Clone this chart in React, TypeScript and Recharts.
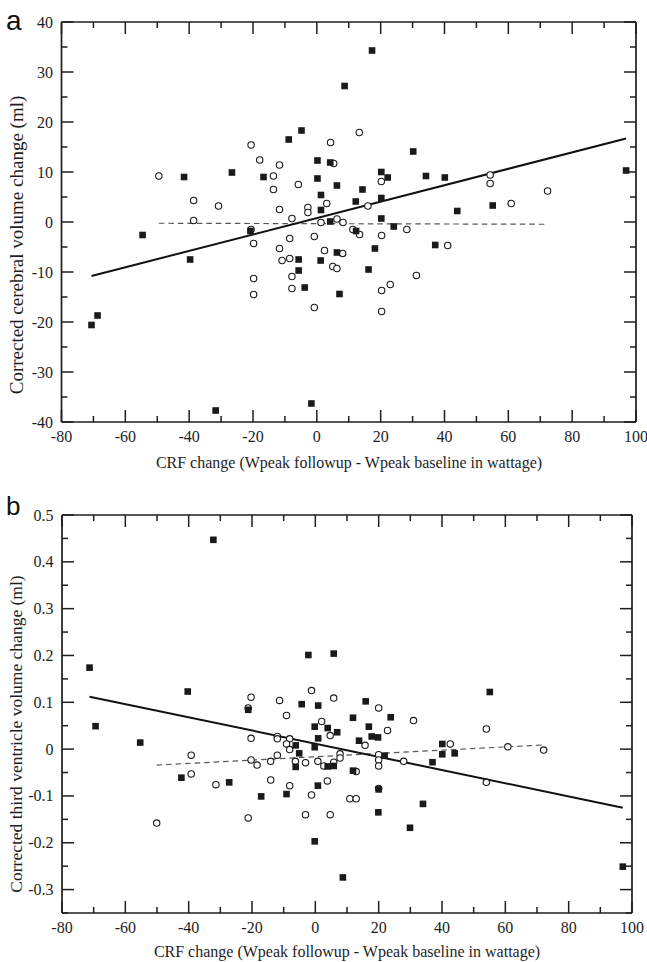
import React from 'react';
import { ScatterChart, Scatter, XAxis, YAxis, ReferenceLine } from 'recharts';

// ---------- Panel a data (CRF change vs corrected cerebral volume change) ----------
const aFilled: [number, number][] = [
  [8.7, 27.2], [-41.6, 9.0], [-26.6, 9.9], [-8.8, 16.5], [-4.8, 18.3], [-16.7, 9.0],
  [0.2, 12.3], [0.2, 8.7], [4.2, 11.9], [6.3, 7.3], [1.3, 5.4], [1.3, 2.4], [4.2, 0.1],
  [17.3, 34.3], [30.2, 14.1], [20.2, 10.0], [22.2, 8.9], [34.2, 9.2], [40.1, 8.9],
  [96.9, 10.3], [14.3, 6.5], [12.2, 4.1], [20.2, 4.8], [55.1, 3.3], [44.0, 2.2],
  [20.2, 0.7], [24.1, -0.9], [-54.6, -2.6], [-20.8, -1.8], [-39.7, -7.5], [-5.7, -7.5],
  [-5.7, -9.7], [-3.8, -13.1], [1.2, -7.7], [6.3, -6.1], [7.1, -14.4], [-70.6, -20.6],
  [-68.7, -18.7], [-31.7, -37.7], [-1.7, -36.3], [12.3, -1.8], [18.2, -5.3],
  [37.1, -4.6], [16.2, -9.5],
];
const aOpen: [number, number][] = [
  [-49.5, 9.2], [-20.6, 15.4], [4.3, 15.9], [-17.9, 12.4], [-11.7, 11.4], [-13.6, 9.2],
  [-13.6, 6.5], [-5.8, 7.5], [5.3, 11.7], [3.1, 3.7], [-38.6, 4.3], [-30.8, 3.2],
  [-11.7, 2.5], [-2.8, 2.9], [-2.8, 1.9], [-7.8, 0.7], [-38.6, 0.3], [1.3, -0.1],
  [6.3, 0.6], [8.2, -0.1], [13.3, 17.9], [20.2, 8.1], [54.3, 9.4], [54.3, 7.7],
  [72.3, 6.2], [16.0, 3.2], [60.9, 3.7], [-20.6, -1.5], [-19.8, -4.3], [-11.7, -5.3],
  [-8.5, -3.3], [-10.9, -7.7], [-8.5, -7.3], [-7.8, -10.9], [-7.8, -13.3], [-19.8, -11.3],
  [-19.8, -14.5], [-0.8, -2.9], [2.4, -5.7], [8.1, -6.3], [5.0, -8.9], [6.3, -9.3],
  [-0.8, -17.1], [11.3, -1.5], [13.4, -2.5], [28.2, -1.5], [20.3, -2.7], [41.0, -4.7],
  [31.2, -10.7], [23.0, -12.5], [20.3, -13.7], [20.3, -17.9],
];
const aSolidFit: [number, number][] = [[-70.6, -10.8], [96.9, 16.7]];
const aDashedFit: [number, number][] = [[-49.5, -0.25], [72.2, -0.45]];

// ---------- Panel b data (CRF change vs corrected third ventricle volume change) ----------
const bFilled: [number, number][] = [
  [-32.2, 0.447], [-71.3, 0.174], [-2.2, 0.201], [5.8, 0.204], [-40.3, 0.123], [-69.4, 0.049],
  [-55.3, 0.014], [-21.2, 0.084], [-4.3, 0.096], [0.9, 0.093], [-0.2, 0.048], [3.9, 0.045],
  [6.9, 0.036], [-6.2, 0.008], [0.9, 0.023], [-0.2, 0.004], [-5.1, -0.009], [-6.2, -0.038],
  [3.9, -0.037], [5.8, -0.036], [-42.3, -0.061], [-27.2, -0.071], [0.8, -0.078],
  [-17.1, -0.101], [-9.1, -0.096], [-0.2, -0.197], [8.7, -0.274], [55.1, 0.122],
  [15.9, 0.102], [11.9, 0.067], [23.8, 0.068], [16.9, 0.048], [17.8, 0.027], [19.8, 0.025],
  [13.8, 0.018], [40.1, 0.011], [40.1, -0.011], [44.0, -0.009], [21.9, -0.014],
  [37.0, -0.028], [11.9, -0.046], [20.0, -0.086], [34.0, -0.117], [19.9, -0.135],
  [29.9, -0.168], [97.1, -0.251],
];
const bOpen: [number, number][] = [
  [-20.3, 0.111], [-21.2, 0.088], [-11.3, 0.104], [-1.2, 0.125], [5.8, 0.109], [-9.1, 0.072],
  [2.0, 0.059], [4.7, 0.029], [-20.3, 0.023], [-12.0, 0.027], [-12.0, 0.022], [-8.1, 0.022],
  [-9.1, 0.011], [-8.1, -0.001], [-39.2, -0.013], [-12.0, -0.013], [-20.3, -0.023],
  [-18.4, -0.034], [-14.1, -0.026], [-6.3, -0.026], [-3.1, -0.029], [0.8, -0.026],
  [2.7, -0.036], [5.8, -0.028], [7.8, -0.010], [7.8, -0.019], [-39.2, -0.053],
  [-31.4, -0.076], [-14.1, -0.066], [-8.1, -0.078], [3.8, -0.068], [-1.2, -0.098],
  [-50.1, -0.158], [-21.2, -0.147], [-3.1, -0.140], [4.7, -0.140], [20.0, 0.088],
  [31.0, 0.061], [22.8, 0.040], [54.0, 0.043], [15.7, 0.008], [42.6, 0.011], [60.8, 0.005],
  [72.1, -0.002], [20.0, -0.012], [20.0, -0.023], [20.0, -0.036], [27.9, -0.026],
  [12.9, -0.048], [54.0, -0.071], [20.0, -0.084], [10.9, -0.106], [12.9, -0.106],
];
const bSolidFit: [number, number][] = [[-71.3, 0.112], [97.1, -0.125]];
const bDashedFit: [number, number][] = [[-50.1, -0.034], [72.1, 0.009]];

// ---------- Axes / ticks ----------
const xTicks = [-80, -70, -60, -50, -40, -30, -20, -10, 0, 10, 20, 30, 40, 50, 60, 70, 80, 90, 100];
const xMajor = [-80, -60, -40, -20, 0, 20, 40, 60, 80, 100];
const aYTicks = [-40, -35, -30, -25, -20, -15, -10, -5, 0, 5, 10, 15, 20, 25, 30, 35, 40];
const aYMajor = [-40, -30, -20, -10, 0, 10, 20, 30, 40];
const bYTicks = [-0.35, -0.3, -0.25, -0.2, -0.15, -0.1, -0.05, 0, 0.05, 0.1, 0.15, 0.2, 0.25, 0.3, 0.35, 0.4, 0.45, 0.5];
const bYMajor = [-0.3, -0.2, -0.1, 0, 0.1, 0.2, 0.3, 0.4, 0.5];
const bYLabels = ['-0.3', '-0.2', '-0.1', '0', '0.1', '0.2', '0.3', '0.4', '0.5'];

const xTitle = 'CRF change (Wpeak followup - Wpeak baseline in wattage)';
const aYTitle = 'Corrected cerebral volume change (ml)';
const bYTitle = 'Corrected third ventricle volume change (ml)';

const toPts = (arr: [number, number][]) => arr.map(([x, y]) => ({ x, y }));

const FONT = "'Liberation Serif', 'Times New Roman', serif";
const INK = '#1e1e1e';
const MAJ = 12;
const MIN = 6;

const findIdx = (list: number[], v: number) => list.findIndex((m) => Math.abs(m - v) < 1e-6);

const makeTick = (side: 'bottom' | 'top' | 'left' | 'right', major: number[], labels?: string[]) =>
  (props: any) => {
    const { x, y, payload } = props;
    const v = payload.value as number;
    const idx = findIdx(major, v);
    const len = idx >= 0 ? MAJ : MIN;
    let line;
    let text = null;
    if (side === 'bottom') {
      line = <line x1={x} y1={y} x2={x} y2={y - len} stroke={INK} strokeWidth={1.5} />;
      if (idx >= 0)
        text = (
          <text x={x} y={y + 20} textAnchor="middle" fontFamily={FONT} fontSize={16} fill={INK}>
            {labels ? labels[idx] : String(v)}
          </text>
        );
    } else if (side === 'top') {
      line = <line x1={x} y1={y} x2={x} y2={y + len} stroke={INK} strokeWidth={1.5} />;
    } else if (side === 'left') {
      line = <line x1={x} y1={y} x2={x + len} y2={y} stroke={INK} strokeWidth={1.5} />;
      if (idx >= 0)
        text = (
          <text x={x - 8.5} y={y + 5.5} textAnchor="end" fontFamily={FONT} fontSize={16} fill={INK}>
            {labels ? labels[idx] : String(v)}
          </text>
        );
    } else {
      line = <line x1={x} y1={y} x2={x - len} y2={y} stroke={INK} strokeWidth={1.5} />;
    }
    return (
      <g>
        {line}
        {text}
      </g>
    );
  };

const SquareShape = (p: any) => (
  <rect x={p.cx - 3.3} y={p.cy - 3.3} width={6.6} height={6.6} fill="#1a1a1a" />
);
const CircleShape = (p: any) => (
  <circle cx={p.cx} cy={p.cy} r={3.2} fill="#ffffff" stroke="#1a1a1a" strokeWidth={1.1} />
);

const axisLine = { stroke: INK, strokeWidth: 1.7 };

interface PanelProps {
  height: number;
  margin: { top: number; right: number; bottom: number; left: number };
  leftW: number;
  yDomain: [number, number];
  yTicks: number[];
  yMajor: number[];
  yLabels?: string[];
  filled: [number, number][];
  open: [number, number][];
  solid: [number, number][];
  dashed: [number, number][];
}

const Panel = (pp: PanelProps) => {
  const seg = (s: [number, number][]) => s.map(([x, y]) => ({ x, y }));
  return (
    <ScatterChart width={647} height={pp.height} margin={pp.margin}>
      <XAxis
        xAxisId="x"
        dataKey="x"
        type="number"
        domain={[-80, 100]}
        ticks={xTicks}
        allowDataOverflow
        height={1}
        tickSize={0}
        tickMargin={0}
        tickLine={false}
        axisLine={axisLine}
        interval={0}
        tick={makeTick('bottom', xMajor)}
      />
      <XAxis
        xAxisId="xt"
        orientation="top"
        dataKey="x"
        type="number"
        domain={[-80, 100]}
        ticks={xTicks}
        allowDataOverflow
        height={1}
        tickSize={0}
        tickMargin={0}
        tickLine={false}
        axisLine={axisLine}
        interval={0}
        tick={makeTick('top', xMajor)}
      />
      <YAxis
        yAxisId="y"
        dataKey="y"
        type="number"
        domain={pp.yDomain}
        ticks={pp.yTicks}
        allowDataOverflow
        width={pp.leftW}
        tickSize={0}
        tickMargin={0}
        tickLine={false}
        axisLine={axisLine}
        interval={0}
        tick={makeTick('left', pp.yMajor, pp.yLabels)}
      />
      <YAxis
        yAxisId="yr"
        orientation="right"
        dataKey="y"
        type="number"
        domain={pp.yDomain}
        ticks={pp.yTicks}
        allowDataOverflow
        width={1}
        tickSize={0}
        tickMargin={0}
        tickLine={false}
        axisLine={axisLine}
        interval={0}
        tick={makeTick('right', pp.yMajor)}
      />
      <ReferenceLine
        xAxisId="x"
        yAxisId="y"
        segment={seg(pp.dashed)}
        stroke="#555"
        strokeWidth={1.2}
        strokeDasharray="5.5 4"
        ifOverflow="visible"
      />
      <ReferenceLine
        xAxisId="x"
        yAxisId="y"
        segment={seg(pp.solid)}
        stroke="#111"
        strokeWidth={2}
        ifOverflow="visible"
      />
      <Scatter
        xAxisId="x"
        yAxisId="y"
        data={toPts(pp.open)}
        dataKey="y"
        shape={CircleShape}
        isAnimationActive={false}
      />
      <Scatter
        xAxisId="x"
        yAxisId="y"
        data={toPts(pp.filled)}
        dataKey="y"
        shape={SquareShape}
        isAnimationActive={false}
      />
    </ScatterChart>
  );
};

export default function App() {
  return (
    <div style={{ position: 'absolute', left: 0, top: 0, width: 647, height: 962, background: '#fff' }}>
      <div style={{ position: 'absolute', left: 0, top: 0 }}>
        <Panel
          height={480}
          margin={{ top: 21, right: 10, bottom: 57, left: 0 }}
          leftW={61.5}
          yDomain={[-40, 40]}
          yTicks={aYTicks}
          yMajor={aYMajor}
          filled={aFilled}
          open={aOpen}
          solid={aSolidFit}
          dashed={aDashedFit}
        />
      </div>
      <div style={{ position: 'absolute', left: 0, top: 480 }}>
        <Panel
          height={482}
          margin={{ top: 34, right: 14, bottom: 48, left: 0 }}
          leftW={62}
          yDomain={[-0.35, 0.5]}
          yTicks={bYTicks}
          yMajor={bYMajor}
          yLabels={bYLabels}
          filled={bFilled}
          open={bOpen}
          solid={bSolidFit}
          dashed={bDashedFit}
        />
      </div>
      <svg
        width={647}
        height={962}
        style={{ position: 'absolute', left: 0, top: 0, pointerEvents: 'none' }}
      >
        <text x={6} y={30} fontFamily="'Liberation Sans', Arial, sans-serif" fontSize={28} fill="#111">
          a
        </text>
        <text x={6} y={515} fontFamily="'Liberation Sans', Arial, sans-serif" fontSize={26} fill="#111">
          b
        </text>
        <text x={349} y={468} textAnchor="middle" fontFamily={FONT} fontSize={16} fill={INK}>
          {xTitle}
        </text>
        <text x={347} y={957} textAnchor="middle" fontFamily={FONT} fontSize={16} fill={INK}>
          {xTitle}
        </text>
        <text
          x={16}
          y={245}
          transform="rotate(-90 16 245)"
          textAnchor="middle"
          dominantBaseline="central"
          fontFamily={FONT}
          fontSize={19}
          fill={INK}
        >
          {aYTitle}
        </text>
        <text
          x={16}
          y={734}
          transform="rotate(-90 16 734)"
          textAnchor="middle"
          dominantBaseline="central"
          fontFamily={FONT}
          fontSize={17.5}
          fill={INK}
        >
          {bYTitle}
        </text>
      </svg>
    </div>
  );
}
